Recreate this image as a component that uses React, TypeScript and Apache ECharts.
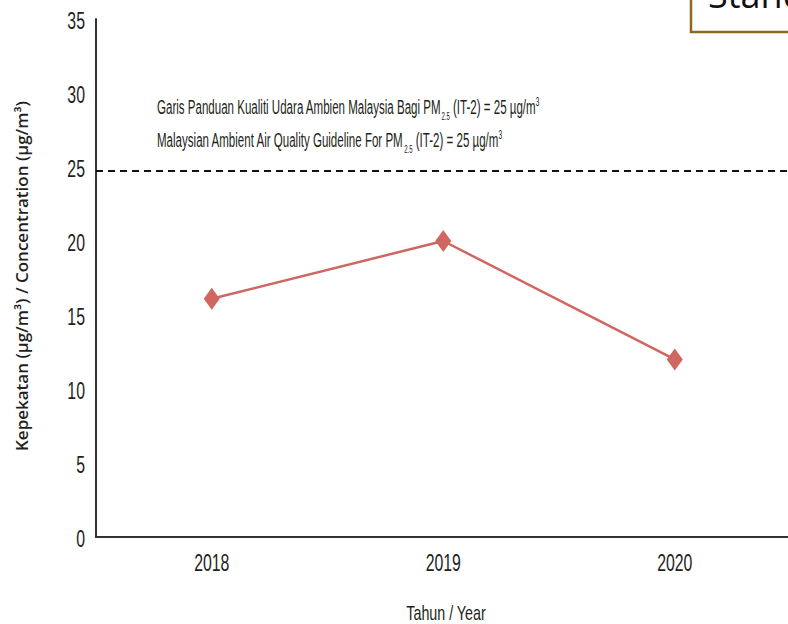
import React, { useEffect, useRef } from "react";
import * as echarts from "echarts";

const years = ["2018", "2019", "2020"];
const concentration = [16.1, 20.0, 12.0];
const guidelineValue = 24.75;
const yTickValues = [0, 5, 10, 15, 20, 25, 30, 35];
const yTickLabels = ["0", "5", "10", "15", "20", "25", "30", "35"];
const guidelineLine1 = "Garis Panduan Kualiti Udara Ambien Malaysia Bagi PM";
const guidelineLine2 = "Malaysian Ambient Air Quality Guideline For PM";
const guidelineTail = " (IT-2) = 25 µg/m";
const yTitle = "Kepekatan (µg/m³) / Concentration (µg/m³)";
const xTitle = "Tahun / Year";
const boxText = "Standard";

const SANS = "'Liberation Sans', Arial, sans-serif";
const TXT = "#231f20";

export default function App() {
  const ref = useRef<HTMLDivElement>(null);
  useEffect(() => {
    if (!ref.current) return;
    const chart = echarts.init(ref.current, null, { renderer: "svg" });
    chart.setOption({
      animation: false,
      backgroundColor: "#ffffff",
      grid: { left: 96, right: 9.5, top: 19, bottom: 87, containLabel: false },
      xAxis: {
        type: "category",
        data: years,
        boundaryGap: true,
        axisLine: { show: true, lineStyle: { color: "#333333", width: 2 } },
        axisTick: { show: false },
        axisLabel: { show: false },
        splitLine: { show: false },
      },
      yAxis: {
        type: "value",
        min: 0,
        max: 35,
        interval: 5,
        axisLine: { show: true, lineStyle: { color: "#333333", width: 2 } },
        axisTick: { show: false },
        splitLine: { show: false },
        axisLabel: { show: false },
      },
      series: [
        {
          type: "line",
          data: concentration,
          symbol: "diamond",
          symbolSize: [16, 22],
          itemStyle: { color: "#cf6660" },
          lineStyle: { color: "#cf6660", width: 2.5 },
          markLine: {
            silent: true,
            symbol: "none",
            label: { show: false },
            lineStyle: { color: "#111111", width: 2, type: [7, 5] },
            data: [{ yAxis: guidelineValue }],
          },
        },
      ],
    });

    const rich = {
      sub: { fontFamily: SANS, fontSize: 11, fill: TXT, padding: [18, 0, 0, 0] },
      sup: { fontFamily: SANS, fontSize: 12, fill: TXT, padding: [0, 0, 10, 0] },
    };
    const graphics: any[] = [];
    yTickValues.forEach((v, i) => {
      const py = chart.convertToPixel({ yAxisIndex: 0 }, v) as number;
      graphics.push({
        type: "text",
        x: 85,
        y: py + 2,
        scaleX: 0.66,
        silent: true,
        style: {
          text: yTickLabels[i],
          fontFamily: SANS,
          fontSize: 24,
          fill: TXT,
          align: "right",
          verticalAlign: "middle",
        },
      });
    });
    years.forEach((y) => {
      const px = chart.convertToPixel({ xAxisIndex: 0 }, y) as number;
      const py = chart.convertToPixel({ yAxisIndex: 0 }, 0) as number;
      graphics.push({
        type: "text",
        x: px,
        y: py + 26,
        scaleX: 0.66,
        silent: true,
        style: {
          text: y,
          fontFamily: SANS,
          fontSize: 24,
          fill: TXT,
          align: "center",
          verticalAlign: "middle",
        },
      });
    });
    graphics.push(
      {
        type: "text",
        x: 446,
        y: 613,
        scaleX: 0.68,
        style: { text: xTitle, fontFamily: SANS, fontSize: 21, fill: TXT, align: "center", verticalAlign: "middle" },
      },
      {
        type: "text",
        x: 157,
        y: 107,
        scaleX: 0.55,
        style: {
          text: guidelineLine1 + "{sub|2.5}" + guidelineTail + "{sup|3}",
          rich,
          fontFamily: SANS,
          fontSize: 21,
          fill: TXT,
          verticalAlign: "middle",
        },
      },
      {
        type: "text",
        x: 157,
        y: 140,
        scaleX: 0.55,
        style: {
          text: guidelineLine2 + "{sub|2.5}" + guidelineTail + "{sup|3}",
          rich,
          fontFamily: SANS,
          fontSize: 21,
          fill: TXT,
          verticalAlign: "middle",
        },
      },
      {
        type: "text",
        x: 21,
        y: 276,
        rotation: Math.PI / 2,
        style: {
          text: yTitle,
          fontFamily: "'Open Sans', sans-serif",
          fontWeight: 600,
          fontSize: 17,
          fill: TXT,
          align: "center",
          verticalAlign: "middle",
        },
      },
      {
        type: "rect",
        shape: { x: 691, y: -10, width: 120, height: 42 },
        style: { fill: "#ffffff", stroke: "#8a6a1e", lineWidth: 2.5 },
      },
      {
        type: "text",
        x: 708,
        y: 12,
        style: {
          text: boxText,
          fontFamily: "'Open Sans', sans-serif",
          fontSize: 36,
          fill: "#111111",
          verticalAlign: "bottom",
        },
      }
    );
    chart.setOption({ graphic: graphics });
    return () => chart.dispose();
  }, []);
  return (
    <div
      style={{
        position: "fixed",
        left: 0,
        top: 0,
        width: 788,
        height: 624,
        overflow: "hidden",
        background: "#ffffff",
      }}
    >
      <div ref={ref} style={{ width: 800, height: 624 }} />
    </div>
  );
}
